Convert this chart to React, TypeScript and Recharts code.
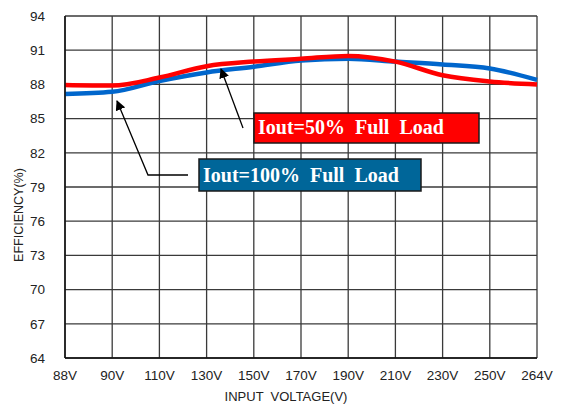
import { LineChart, Line, XAxis, YAxis, CartesianGrid } from "recharts"

const voltages = ["88V", "90V", "110V", "130V", "150V", "170V", "190V", "210V", "230V", "250V", "264V"]
const halfLoad = [87.95, 87.9, 88.6, 89.6, 90.0, 90.25, 90.5, 90.0, 88.8, 88.25, 88.0]
const fullLoad = [87.15, 87.35, 88.3, 89.05, 89.55, 90.1, 90.25, 90.0, 89.75, 89.4, 88.4]
const yTicks = [64, 67, 70, 73, 76, 79, 82, 85, 88, 91, 94]

const data = voltages.map((v, i) => ({ v, half: halfLoad[i], full: fullLoad[i] }))

const font = "'Liberation Sans', Arial, sans-serif"

export default function App() {
  return (
    <div style={{ position: "absolute", left: 0, top: 0, width: 566, height: 410, background: "#fff" }}>
      <LineChart width={566} height={410} data={data} margin={{ top: 16, right: 29, left: 0, bottom: 22 }}>
        <CartesianGrid stroke="#3a3a3a" strokeWidth={1.3} />
        <XAxis
          dataKey="v"
          height={30}
          interval={0}
          tick={{ fontSize: 13.5, fill: "#222", fontFamily: font }}
          tickLine={false}
          axisLine={{ stroke: "#111", strokeWidth: 1.5 }}
          tickMargin={6}
        />
        <YAxis
          domain={[64, 94]}
          ticks={yTicks}
          width={65}
          interval={0}
          tick={{ fontSize: 13.5, fill: "#222", fontFamily: font }}
          tickLine={false}
          axisLine={{ stroke: "#111", strokeWidth: 1.5 }}
          tickMargin={14}
        />
        <Line type="monotone" dataKey="full" stroke="#0066cc" strokeWidth={4.5} dot={false} isAnimationActive={false} />
        <Line type="monotone" dataKey="half" stroke="#ff0000" strokeWidth={4.5} dot={false} isAnimationActive={false} />
      </LineChart>
      <svg width={566} height={410} style={{ position: "absolute", left: 0, top: 0, pointerEvents: "none" }}>
        <defs>
          <marker id="arr" markerWidth="10" markerHeight="10" refX="9" refY="5" orient="auto" markerUnits="userSpaceOnUse">
            <path d="M0,0 L10,5 L0,10 z" fill="#000" />
          </marker>
        </defs>
        <text x={286} y={401} textAnchor="middle" fontSize={13} fontFamily={font} fill="#222" xmlSpace="preserve">INPUT  VOLTAGE(V)</text>
        <text transform="translate(23,215) rotate(-90)" textAnchor="middle" fontSize={12.5} fontFamily={font} fill="#222">EFFICIENCY(%)</text>
        <line x1={243} y1={128} x2={221} y2={69} stroke="#000" strokeWidth={1.3} markerEnd="url(#arr)" />
        <polyline points="188,175 148,175 117,101" fill="none" stroke="#000" strokeWidth={1.3} markerEnd="url(#arr)" />
        <rect x={254} y={113} width={225} height={30} fill="#ff0000" stroke="#1a1a1a" strokeWidth={1.5} />
        <text x={258} y={134} fontSize={20} fontWeight="bold" fontFamily="'Liberation Serif', 'Times New Roman', serif" fill="#fff" xmlSpace="preserve">Iout=50%  Full  Load</text>
        <rect x={199} y={159} width={222} height={32} fill="#006699" stroke="#1a1a1a" strokeWidth={1.5} />
        <text x={203} y={182} fontSize={20} fontWeight="bold" fontFamily="'Liberation Serif', 'Times New Roman', serif" fill="#fff" xmlSpace="preserve">Iout=100%  Full  Load</text>
      </svg>
    </div>
  )
}
